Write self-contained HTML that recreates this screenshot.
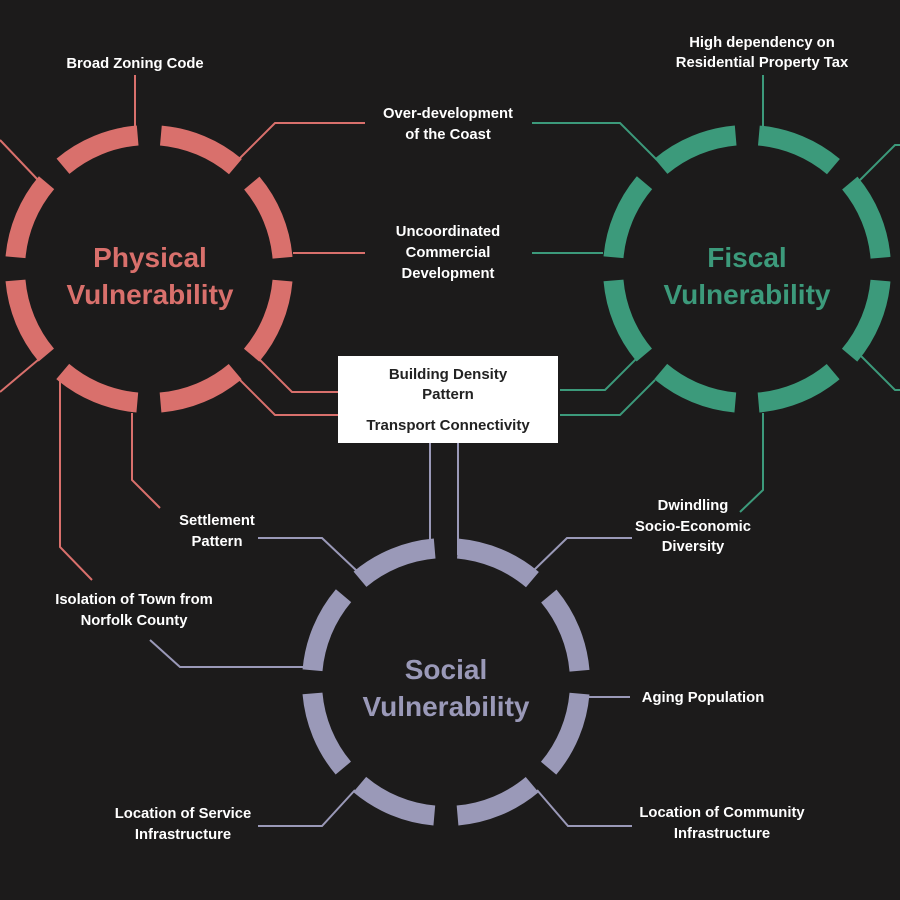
<!DOCTYPE html>
<html><head><meta charset="utf-8"><style>
html,body{margin:0;padding:0;background:#1c1b1b;}
svg{display:block}
text{font-family:"Liberation Sans",sans-serif;font-weight:bold;}
.l{fill:#fff;font-size:14.8px;text-anchor:middle}
.b{fill:#222;font-size:15px;text-anchor:middle}
.t{font-size:28px;text-anchor:middle}
</style></head><body>
<svg width="900" height="900" viewBox="0 0 900 900">
<rect width="900" height="900" fill="#1c1b1b"/>
<!-- Physical -->
<g fill="none" stroke="#d9706c" stroke-width="2">
<circle cx="149" cy="269" r="134" stroke-width="20" stroke-dasharray="82 23.25" stroke-dashoffset="-11.6"/>
<polyline points="135,128 135,75"/>
<polyline points="238,160 275,123 365,123"/>
<polyline points="293,253 365,253"/>
<polyline points="255,355 292,392 340,392"/>
<polyline points="240,380 275,415 340,415"/>
<polyline points="132,413 132,480 160,508"/>
<polyline points="60,380 60,547 92,580"/>
<polyline points="0,140 38,180"/>
<polyline points="38,360 0,392"/>
</g>
<!-- Fiscal -->
<g fill="none" stroke="#3c9a7b" stroke-width="2">
<circle cx="747" cy="269" r="134" stroke-width="20" stroke-dasharray="82 23.25" stroke-dashoffset="-11.6"/>
<polyline points="763,128 763,75"/>
<polyline points="657,160 620,123 532,123"/>
<polyline points="603,253 532,253"/>
<polyline points="640,355 605,390 560,390"/>
<polyline points="655,380 620,415 560,415"/>
<polyline points="763,413 763,490 740,512"/>
<polyline points="860,180 895,145 900,145"/>
<polyline points="860,355 895,390 900,390"/>
</g>
<!-- Social -->
<g fill="none" stroke="#9a99b8" stroke-width="2">
<circle cx="446" cy="682" r="134" stroke-width="20" stroke-dasharray="82 23.25" stroke-dashoffset="-11.6"/>
<polyline points="430,443 430,555"/>
<polyline points="458,443 458,555"/>
<polyline points="358,572 322,538 258,538"/>
<polyline points="532,572 567,538 632,538"/>
<polyline points="304,667 180,667 150,640"/>
<polyline points="588,697 630,697"/>
<polyline points="355,790 322,826 258,826"/>
<polyline points="537,790 568,826 632,826"/>
</g>
<!-- box -->
<rect x="338" y="356" width="220" height="87" fill="#fff"/>
<text class="b" x="448" y="379">Building Density</text>
<text class="b" x="448" y="399">Pattern</text>
<text class="b" x="448" y="430">Transport Connectivity</text>
<!-- titles -->
<text class="t" x="150" y="267" fill="#d9706c">Physical</text>
<text class="t" x="150" y="304" fill="#d9706c">Vulnerability</text>
<text class="t" x="747" y="267" fill="#3c9a7b">Fiscal</text>
<text class="t" x="747" y="304" fill="#3c9a7b">Vulnerability</text>
<text class="t" x="446" y="679" fill="#9a99b8">Social</text>
<text class="t" x="446" y="716" fill="#9a99b8">Vulnerability</text>
<!-- labels -->
<text class="l" x="135" y="68">Broad Zoning Code</text>
<text class="l" x="448" y="118">Over-development</text>
<text class="l" x="448" y="139">of the Coast</text>
<text class="l" x="448" y="236">Uncoordinated</text>
<text class="l" x="448" y="257">Commercial</text>
<text class="l" x="448" y="278">Development</text>
<text class="l" x="762" y="47">High dependency on</text>
<text class="l" x="762" y="67">Residential Property Tax</text>
<text class="l" x="217" y="525">Settlement</text>
<text class="l" x="217" y="546">Pattern</text>
<text class="l" x="134" y="604">Isolation of Town from</text>
<text class="l" x="134" y="625">Norfolk County</text>
<text class="l" x="693" y="510">Dwindling</text>
<text class="l" x="693" y="531">Socio-Economic</text>
<text class="l" x="693" y="551">Diversity</text>
<text class="l" x="703" y="702">Aging Population</text>
<text class="l" x="183" y="818">Location of Service</text>
<text class="l" x="183" y="839">Infrastructure</text>
<text class="l" x="722" y="817">Location of Community</text>
<text class="l" x="722" y="838">Infrastructure</text>
</svg>
</body></html>
